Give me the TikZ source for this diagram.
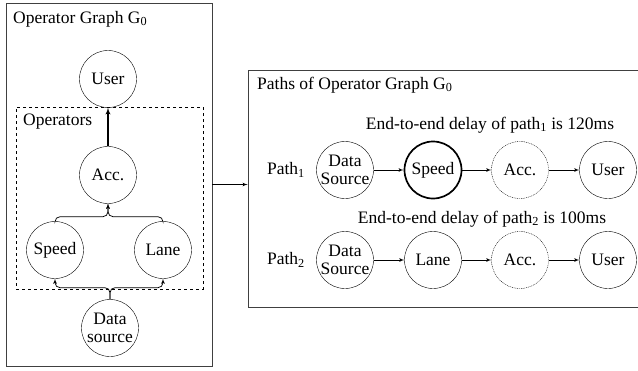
\documentclass[tikz,border=0pt]{standalone}
\usepackage{fontspec}
\setmainfont{Liberation Serif}
\usetikzlibrary{shapes, arrows}
\tikzstyle{op} = [circle, draw, minimum size=57pt, inner sep=0pt, align=center]
\tikzstyle{hot} = [line width=1.7pt]
\tikzstyle{ghost} = [dash pattern=on 0.9pt off 0.9pt]
\tikzstyle{panel} = [rectangle, draw=black!75, line width=0.7pt, inner sep=0pt]
\tikzstyle{group} = [rectangle, draw, dashed, line width=0.7pt, inner sep=0pt]
\tikzstyle{title} = [anchor=west, inner sep=0pt]
\tikzstyle{line} = [draw, -latex', line width=0.75pt]
\tikzstyle{thick line} = [draw, -latex', line width=1.3pt]

\begin{document}
\begin{tikzpicture}[x=1pt, y=-1pt, node distance=87pt, auto,
    font=\fontsize{17.5}{18}\selectfont]
        \useasboundingbox (0,0) rectangle (638,370);
        % Frames
        \node [panel, minimum width=206pt, minimum height=363pt] (graphbox) at (109,184.5) {};
        \node [panel, minimum width=392pt, minimum height=237pt] (pathbox) at (444,188.5) {};
        \node [group, minimum width=187pt, minimum height=182pt] (opbox) at (109.5,198) {};
        \node [title] (graphtitle) at (13,19) {Operator Graph G\textsubscript{0}};
        \node [title] (pathtitle) at (257,85) {Paths of Operator Graph G\textsubscript{0}};
        \node [title] (optitle) at (23,122) {Operators};
        % Operator graph
        \node [op] (user) at (108,79) {User};
        \node [op, below of=user, node distance=96pt] (acc) {Acc.};
        \node [op] (speed) at (55,250) {Speed};
        \node [op] (lane) at (163,250) {Lane};
        \node [op] (src) at (110,328) {Data\\source};
        % Path 1
        \node [op] (src1) at (345,170) {Data\\Source};
        \node [op, hot, right of=src1, node distance=88pt] (speed1) {Speed};
        \node [op, ghost, right of=speed1] (acc1) {Acc.};
        \node [op, right of=acc1, node distance=88pt] (user1) {User};
        \node [left of=src1, node distance=59pt] (path1) {Path\textsubscript{1}};
        \node (delay1) at (490,125) {End-to-end delay of path\textsubscript{1} is 120ms};
        % Path 2
        \node [op] (src2) at (345,260) {Data\\Source};
        \node [op, right of=src2, node distance=88pt] (lane2) {Lane};
        \node [op, ghost, right of=lane2] (acc2) {Acc.};
        \node [op, right of=acc2, node distance=88pt] (user2) {User};
        \node [left of=src2, node distance=59pt] (path2) {Path\textsubscript{2}};
        \node (delay2) at (482,219) {End-to-end delay of path\textsubscript{2} is 100ms};
        % Draw edges
        \path [thick line] (acc) -- (user);
        \path [line, rounded corners=5pt] (speed.north) |- ([yshift=-13pt]acc.south) -- (acc.south);
        \path [line, rounded corners=5pt] (lane.north) |- ([yshift=-13pt]acc.south) -- (acc.south);
        \path [line, rounded corners=5pt] (src.north) |- ([yshift=-9pt]speed.south) -- (speed.south);
        \path [line, rounded corners=5pt] (src.north) |- ([yshift=-9pt]lane.south) -- (lane.south);
        \path [line] (graphbox.east) -- (graphbox.east -| pathbox.west);
        \path [line] (src1) -- (speed1);
        \path [line] (speed1) -- (acc1);
        \path [line] (acc1) -- (user1);
        \path [line] (src2) -- (lane2);
        \path [line] (lane2) -- (acc2);
        \path [line] (acc2) -- (user2);
\end{tikzpicture}
\end{document}
